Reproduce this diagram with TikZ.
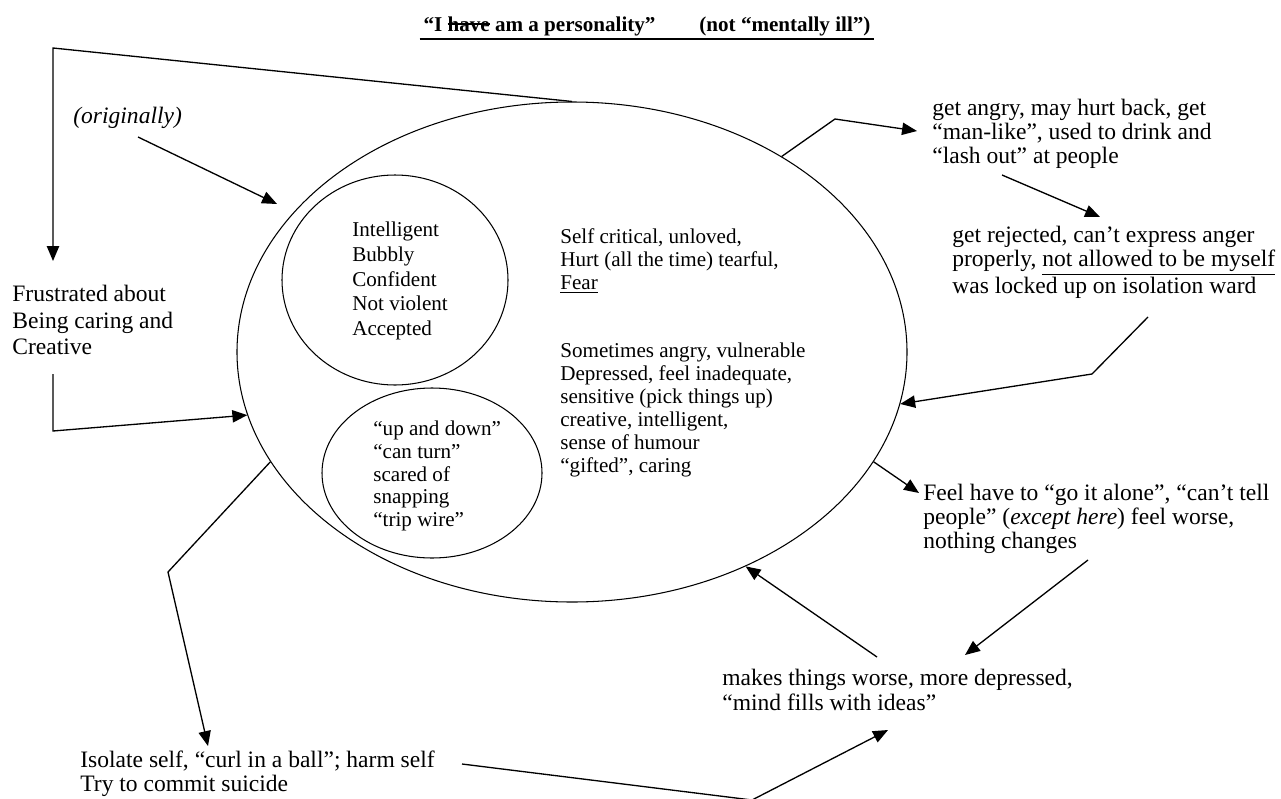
\documentclass[tikz,border=0pt]{standalone}
\usepackage{fontspec}
\setmainfont{Liberation Serif}
\usetikzlibrary{arrows.meta,shapes.geometric}

\newcommand{\strk}[1]{\setbox0\hbox{#1}\rlap{\rule[0.3em]{\wd0}{0.7pt}}#1}

\tikzset{
  txt/.style={align=left, inner sep=0pt, anchor=west, font=\fontsize{12}{13}\selectfont},
  outtxt/.style={txt, font=\fontsize{13.4}{13.8}\selectfont},
  oval/.style={draw, ellipse, inner sep=0pt, line width=0.6pt},
  arr/.style={-{Triangle[length=8.5pt,width=7pt]}, line width=0.75pt}
}

\begin{document}
\begin{tikzpicture}[x=0.02cm, y=-0.02cm]
  \useasboundingbox (0,0) rectangle (1281,798);

  % title
  \node[inner xsep=2pt, inner ysep=1.5pt, font=\fontsize{12}{13}\selectfont\bfseries] (title) at (647,26)
    {“I \strk{have} am a personality”\hspace{25pt}(not “mentally ill”)};
  \draw[line width=1.2pt] (title.south west) -- (title.south east);

  % ovals
  \node[oval, minimum width=670*0.02cm, minimum height=500*0.02cm] (self) at (572,352) {};
  \node[oval, minimum width=226*0.02cm, minimum height=210*0.02cm] (goodc) at (395,280) {};
  \node[oval, minimum width=220*0.02cm, minimum height=170*0.02cm] (upc) at (432,473) {};

  % texts inside
  \node[txt, font=\fontsize{12}{14}\selectfont] (good) at (352,281) {Intelligent\\Bubbly\\Confident\\Not violent\\Accepted};
  \node[txt] (hurt) at (560,261) {Self critical, unloved,\\Hurt (all the time) tearful,\\\underline{Fear}};
  \node[txt] (angry) at (560,410) {Sometimes angry, vulnerable\\Depressed, feel inadequate,\\sensitive (pick things up)\\creative, intelligent,\\sense of humour\\“gifted”, caring};
  \node[txt] (updown) at (373,476) {“up and down”\\“can turn”\\scared of\\snapping\\“trip wire”};

  % texts outside
  \node[outtxt] (orig) at (73,118) {\textit{(originally)}};
  \node[outtxt, font=\fontsize{13.4}{15.3}\selectfont] (frust) at (12,320) {Frustrated about\\Being caring and\\Creative};
  \node[outtxt] (lash) at (932,134) {get angry, may hurt back, get\\“man-like”, used to drink and\\“lash out” at people};
  \node[outtxt] (reject) at (952,262) {get rejected, can’t express anger\\properly, \underline{not allowed to be myself}\\was locked up on isolation ward};
  \node[outtxt] (alone) at (923,519) {Feel have to “go it alone”, “can’t tell\\people” (\textit{except here}) feel worse,\\nothing changes};
  \node[outtxt, font=\fontsize{13.4}{14.2}\selectfont] (worse) at (722,690) {makes things worse, more depressed,\\“mind fills with ideas”};
  \node[outtxt] (isolate) at (80,774) {Isolate self, “curl in a ball”; harm self\\Try to commit suicide};

  % bend points and free ends
  \coordinate (tl) at (53,48);
  \coordinate (fa) at (53,261);
  \coordinate (fb) at (53,374);
  \coordinate (fc) at (53,431);
  \coordinate (oa) at (138,137);
  \coordinate (ob) at (277,204);
  \coordinate (la) at (835,119);
  \coordinate (lb) at (917,131);
  \coordinate (lc) at (1002,175);
  \coordinate (ld) at (1100,217);
  \coordinate (ra) at (1148,317);
  \coordinate (rb) at (1092,374);
  \coordinate (aa) at (919,493);
  \coordinate (ab) at (1088,560);
  \coordinate (ac) at (965,655);
  \coordinate (wa) at (877,657);
  \coordinate (ia) at (168,572);
  \coordinate (ib) at (208,746);
  \coordinate (ic) at (462,764);
  \coordinate (id) at (752,800);
  \coordinate (ie) at (888,730);

  % connectors
  \draw[arr] (self.north) -- (tl) -- (fa);
  \draw[arr] (oa) -- (ob);
  \draw[arr] (fb) -- (fc) -- (self.191);
  \draw[arr] (self.43) -- (la) -- (lb);
  \draw[arr] (lc) -- (ld);
  \draw[arr] (ra) -- (rb) -- (self.351);
  \draw[arr] (self.340) -- (aa);
  \draw[arr] (ab) -- (ac);
  \draw[arr] (wa) -- (self.309);
  \draw[arr] (self.200) -- (ia) -- (ib);
  \draw[arr] (ic) -- (id) -- (ie);
\end{tikzpicture}
\end{document}
